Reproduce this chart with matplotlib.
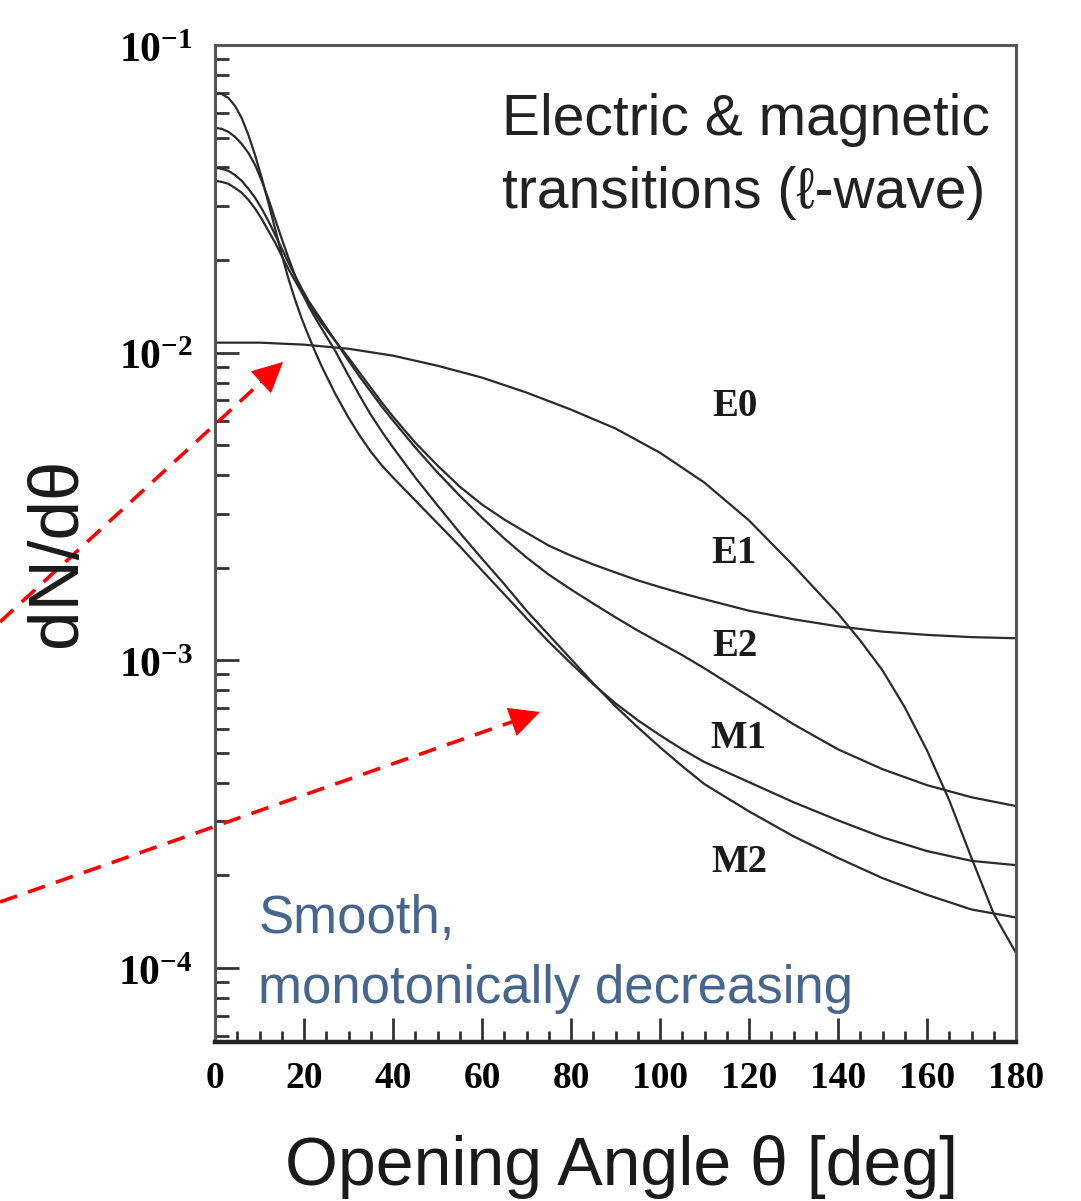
import math
import matplotlib
matplotlib.use('Agg')
import matplotlib.pyplot as plt
from matplotlib.ticker import LogLocator, NullFormatter, MultipleLocator
from matplotlib.lines import Line2D
from matplotlib.patches import FancyArrowPatch

plt.rcParams['mathtext.fontset'] = 'custom'
plt.rcParams['mathtext.rm'] = 'Liberation Serif:bold'
plt.rcParams['mathtext.bf'] = 'Liberation Serif:bold'
plt.rcParams['mathtext.it'] = 'Liberation Serif:bold'

# ---------------- data ----------------
theta = [0, 1.5, 3, 4.5, 6, 7.5, 9, 10.5, 12, 13.5, 15, 16.5, 18, 19.5, 21, 22.5, 24,
         27, 30, 32.5, 35, 37.5, 40, 45, 50, 55, 60, 65, 70, 75, 80, 85, 90, 95, 100,
         105, 110, 120, 130, 140, 150, 160, 170, 180]
m1 = [0.0699, 0.0693, 0.0673, 0.0634, 0.0579, 0.0510, 0.0439, 0.0370, 0.0307, 0.0253,
      0.0208, 0.0174, 0.01486, 0.01289, 0.01136, 0.01008, 0.00901,
      0.00736, 0.00615, 0.00538, 0.00477, 0.00430, 0.00393, 0.00331, 0.00279, 0.00235,
      0.00196, 0.00164, 0.00137, 0.00115, 0.000978, 0.000836, 0.000725, 0.000639, 0.000571,
      0.000514, 0.000467, 0.000402, 0.000346, 0.000302, 0.000266, 0.000240, 0.000223,
      0.000216]
m2 = [0.0538, 0.0534, 0.0522, 0.0503, 0.0477, 0.0446, 0.0408, 0.0362, 0.0316, 0.0272,
      0.02345, 0.02034, 0.01778, 0.01578, 0.01421, 0.01299, 0.01196,
      0.01015, 0.00842, 0.00725, 0.00629, 0.00554, 0.00492, 0.00393, 0.00319, 0.00260,
      0.00214, 0.00177, 0.00145, 0.00121, 0.00101, 0.000842, 0.000709, 0.000606, 0.000522,
      0.000453, 0.000396, 0.000323, 0.000268, 0.000228, 0.000196, 0.000173, 0.000155,
      0.000146]
e2 = [0.0399, 0.0396, 0.0390, 0.0378, 0.0362, 0.0341, 0.0319, 0.0294, 0.0268, 0.0242,
      0.0218, 0.0196, 0.01778, 0.01614, 0.01475, 0.01369, 0.01270,
      0.01094, 0.00942, 0.00836, 0.00747, 0.00668, 0.00602, 0.00492, 0.00408, 0.00343,
      0.00291, 0.00249, 0.00216, 0.00190, 0.00170, 0.00153, 0.00138, 0.00125, 0.00114,
      0.00104, 0.000942, 0.000764, 0.000620, 0.000514, 0.000443, 0.000393, 0.000359,
      0.000336]
e1 = [0.0362, 0.0359, 0.0354, 0.0343, 0.0331, 0.0314, 0.0294, 0.0272, 0.0249, 0.0228,
      0.02065, 0.0187, 0.01713, 0.01566, 0.01442, 0.01339, 0.01242,
      0.01094, 0.00963, 0.00861, 0.00770, 0.00688, 0.00620, 0.00510, 0.00430, 0.00367,
      0.00321, 0.00287, 0.00260, 0.00236, 0.00219, 0.00205, 0.00193, 0.00182, 0.00173,
      0.00165, 0.00158, 0.00145, 0.00136, 0.00129, 0.00124, 0.00121, 0.00119, 0.00118]
theta_e0 = [0, 10, 20, 30, 40, 50, 60, 70, 80, 90, 100, 110, 120, 130, 140, 145, 150,
            155, 160, 165, 170, 175, 180]
e0 = [0.01078, 0.01078, 0.01062, 0.01030, 0.00978, 0.00907, 0.00830, 0.00742, 0.00653,
      0.00567, 0.00473, 0.00378, 0.00285, 0.00203, 0.00142, 0.00116, 0.000928, 0.000704,
      0.000510, 0.000351, 0.000228, 0.000150, 0.000112]

curve_labels = ['E0', 'E1', 'E2', 'M1', 'M2']
x_ticks = [0, 20, 40, 60, 80, 100, 120, 140, 160, 180]
y_ticks = [1e-4, 1e-3, 1e-2, 1e-1]
y_ticklabels = [r'$10^{-4}$', r'$10^{-3}$', r'$10^{-2}$', r'$10^{-1}$']

# ---------------- figure ----------------
W, H = 1081, 1201
fig = plt.figure(figsize=(W / 100, H / 100), dpi=100)
fig.patch.set_facecolor('white')
ax = fig.add_axes([215 / W, 1 - 1042 / H, 801 / W, 997 / H])

lc = '#2b2b2b'
ax.plot(theta_e0, e0, color=lc, lw=1.6, solid_joinstyle='round')
for yy in (e1, e2, m1, m2):
    ax.plot(theta, yy, color=lc, lw=1.6, solid_joinstyle='round')

ax.set_yscale('log')
ax.set_xlim(0, 180)
ax.set_ylim(5.75e-5, 0.1)

ax.set_xticks(x_ticks)
ax.set_xticklabels([str(t) for t in x_ticks])
ax.xaxis.set_minor_locator(MultipleLocator(5))
ax.set_yticks(y_ticks)
ax.set_yticklabels(y_ticklabels)
ax.yaxis.set_minor_locator(LogLocator(base=10, subs=range(2, 10)))
ax.yaxis.set_minor_formatter(NullFormatter())

ax.tick_params(axis='both', which='both', direction='in', top=False, right=False,
               color='#333333')
ax.tick_params(axis='y', which='major', length=17, width=2, pad=16, labelsize=30)
ax.tick_params(axis='y', which='minor', length=10, width=2)
ax.tick_params(axis='x', which='major', length=17, width=2, pad=14)
ax.tick_params(axis='x', which='minor', length=8, width=2)
for lab in ax.get_xticklabels():
    lab.set_fontfamily('Liberation Serif')
    lab.set_fontweight('bold')
    lab.set_fontsize(27)

for s in ('left', 'top', 'right'):
    ax.spines[s].set_color('#555555')
    ax.spines[s].set_linewidth(2.2)
ax.spines['bottom'].set_color('#222222')
ax.spines['bottom'].set_linewidth(3.2)

# curve labels
lab_pos = {'E0': (0.649, 0.637), 'E1': (0.648, 0.4895), 'E2': (0.649, 0.397),
           'M1': (0.654, 0.304), 'M2': (0.655, 0.1805)}
for name in curve_labels:
    fx, fy = lab_pos[name]
    ax.text(fx, fy, name, transform=ax.transAxes, ha='center', va='center',
            fontfamily='Liberation Serif', fontweight='bold', fontsize=28, color='#1a1a1a')

# annotation texts
sans = ['Liberation Sans', 'DejaVu Sans']
ax.text(0.358, 0.910, 'Electric & magnetic', transform=ax.transAxes, ha='left',
        va='baseline', fontfamily=sans, fontsize=41, color='#222222')
ax.text(0.358, 0.8365, 'transitions (\u2113-wave)', transform=ax.transAxes, ha='left',
        va='baseline', fontfamily=sans, fontsize=41, color='#222222')
blue = '#46668f'
ax.text(0.054, 0.109, 'Smooth,', transform=ax.transAxes, ha='left', va='baseline',
        fontfamily=sans, fontsize=38, color=blue)
ax.text(0.054, 0.039, 'monotonically decreasing', transform=ax.transAxes, ha='left',
        va='baseline', fontfamily=sans, fontsize=38, color=blue)

# axis labels
fig.text(622 / W, 1 - 1185 / H, 'Opening Angle \u03b8 [deg]', ha='center', va='baseline',
         fontfamily=sans, fontsize=49, color='#1a1a1a')
fig.text(58 / W, 1 - 552 / H, 'dN/d\u03b8', ha='center', va='center', rotation=90,
         fontfamily=sans, fontsize=51, color='#1a1a1a')

# red dashed arrows (figure pixel coordinates, y from top)
def red_arrow(x0, y0, x1, y1, head_px=27):
    length = math.hypot(x1 - x0, y1 - y0)
    frac = 1 - head_px / length
    p0 = (x0 / W, 1 - y0 / H)
    p1 = (x1 / W, 1 - y1 / H)
    dx, dy = p1[0] - p0[0], p1[1] - p0[1]
    pm = (p0[0] + dx * frac, p0[1] + dy * frac)
    fig.add_artist(Line2D([p0[0], pm[0]], [p0[1], pm[1]], transform=fig.transFigure,
                          color='#ff0000', lw=2.6, linestyle=(0, (5, 3.2))))
    pb = (p0[0] + dx * (frac - 0.01), p0[1] + dy * (frac - 0.01))
    fig.add_artist(FancyArrowPatch(pb, p1, transform=fig.transFigure,
                                   arrowstyle='-|>,head_length=1.45,head_width=0.72',
                                   mutation_scale=14, color='#ff0000', lw=0.8,
                                   shrinkA=0, shrinkB=0))

red_arrow(0, 622, 283, 362)
red_arrow(0, 902, 540, 712)

fig.savefig('out.png', dpi=100)
